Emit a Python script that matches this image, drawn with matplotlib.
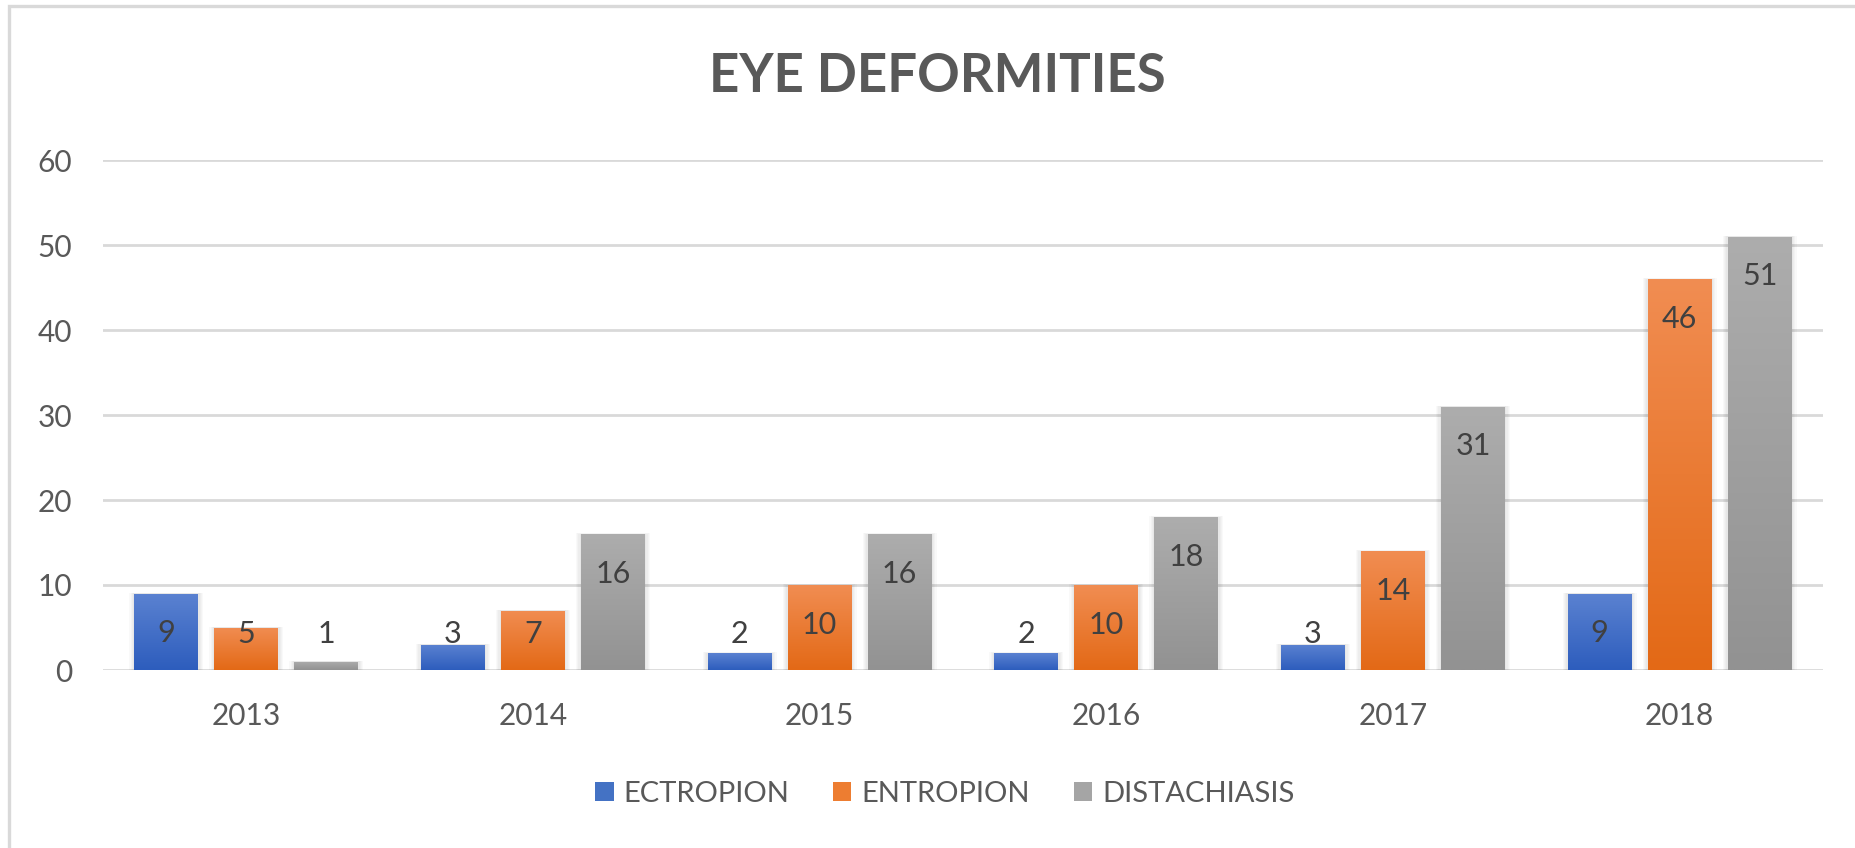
import matplotlib
matplotlib.use("Agg")
import matplotlib.pyplot as plt
import numpy as np
from matplotlib.patches import Rectangle
from matplotlib.colors import LinearSegmentedColormap

years = ["2013", "2014", "2015", "2016", "2017", "2018"]
ectropion = [9, 3, 2, 2, 3, 9]
entropion = [5, 7, 10, 10, 14, 46]
distachiasis = [1, 16, 16, 18, 31, 51]
series_names = ["ECTROPION", "ENTROPION", "DISTACHIASIS"]
yticks = [0, 10, 20, 30, 40, 50, 60]

FONT = "Lato"
plt.rcParams["font.family"] = [FONT, "DejaVu Sans"]

W, H = 1855, 848
fig = plt.figure(figsize=(W / 100, H / 100), dpi=100)
fig.patch.set_facecolor("white")

# outer chart frame (top and left visible)
fig.add_artist(Rectangle((9 / W, -0.1), 1.2, (H - 6) / H + 0.1, transform=fig.transFigure,
                         fill=False, edgecolor="#d9d9d9", linewidth=2.4))

ax = fig.add_axes([103 / W, 1 - 670 / H, (1823 - 103) / W, (670 - 160) / H])
ax.set_xlim(-0.5, len(years) - 0.5)
ax.set_ylim(0, 60)
for s in ax.spines.values():
    s.set_visible(False)
ax.set_yticks(yticks)
ax.yaxis.grid(True, color="#d9d9d9", linewidth=2.0)
ax.set_axisbelow(True)
ax.tick_params(axis="both", length=0, colors="#595959", labelsize=21.5)
ax.tick_params(axis="y", pad=22)
ax.tick_params(axis="x", pad=23)
ax.set_xticks(range(len(years)))
ax.set_xticklabels(years)

gradients = [
    ("#5b82d1", "#2d5dbd"),
    ("#f18d52", "#e36916"),
    ("#adadad", "#929292"),
]
solid = ["#4472c4", "#ed7d31", "#a5a5a5"]

x = np.arange(len(years))
width = 0.223
offset = 0.279
data = [ectropion, entropion, distachiasis]
grad = np.linspace(0, 1, 256).reshape(-1, 1)

for i, (vals, (ctop, cbot)) in enumerate(zip(data, gradients)):
    pos = x + (i - 1) * offset
    bars = ax.bar(pos, vals, width=width, color=solid[i], zorder=3, linewidth=0)
    cmap = LinearSegmentedColormap.from_list("g%d" % i, [ctop, cbot])
    for b, v in zip(bars, vals):
        x0, y0 = b.get_x(), b.get_y()
        w, h = b.get_width(), b.get_height()
        # soft shadow
        for k in [0.018, 0.013, 0.009, 0.005]:
            ax.add_patch(Rectangle((x0 - k, y0), w + 2 * k, h + k * 6,
                                   facecolor="black", alpha=0.022, linewidth=0, zorder=2.5))
        im = ax.imshow(grad, extent=(x0, x0 + w, y0, y0 + h), cmap=cmap,
                       aspect="auto", zorder=3.5, origin="upper")
        im.set_clip_path(b)
        # data label: inside end, kept above the base
        ly = max(v - 4.7, 4.24)
        ax.text(x0 + w / 2, ly, str(v), ha="center", va="center",
                fontsize=22, color="#404040", zorder=5)

ax.set_xlim(-0.5, len(years) - 0.5)
ax.set_ylim(0, 60)

fig.text(937 / W, 1 - 77 / H, "EYE DEFORMITIES", ha="center", va="center",
         fontsize=38, fontweight="bold", color="#595959")

handles = [Rectangle((0, 0), 1, 1, facecolor=c) for c in solid]
leg = fig.legend(handles, series_names, loc="center", bbox_to_anchor=(945 / W, 1 - 794 / H),
                 ncol=3, frameon=False, fontsize=21, handlelength=0.62, handleheight=0.62,
                 handletextpad=0.35, columnspacing=1.5, labelcolor="#595959")

fig.savefig("out.png", dpi=100, facecolor="white")
